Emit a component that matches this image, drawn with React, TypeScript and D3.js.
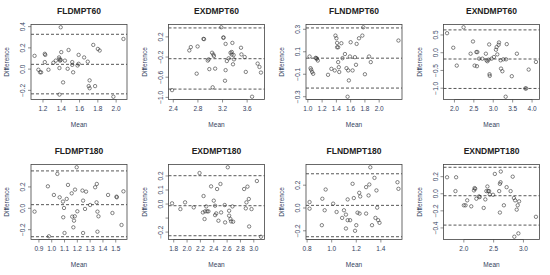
import React from "react";
import * as d3 from "d3";

// Bland-Altman panels: mean of two methods vs difference
const titles = [
  "FLDMPT60", "EXDMPT60", "FLNDMPT60", "EXNDMPT60",
  "FLDMPT180", "EXDMPT180", "FLNDMPT180", "EXNDMPT180"
];

const fldmpt60Mean = [1.108, 1.15, 1.168, 1.18, 1.22, 1.225, 1.22, 1.26, 1.314, 1.34, 1.376, 1.38, 1.394, 1.387, 1.4, 1.394, 1.38, 1.38, 1.42, 1.44, 1.47, 1.48, 1.52, 1.52, 1.53, 1.578, 1.59, 1.59, 1.65, 1.69, 1.71, 1.7, 1.71, 1.75, 1.77, 1.8, 1.82, 1.97, 2.08];
const fldmpt60Diff = [0.125, -0.006, -0.03, -0.03, 0.144, 0.134, 0.066, -0.006, 0.06, 0.08, 0.11, 0.094, 0.087, 0.08, 0.16, 0.394, 0.01, -0.24, -0.125, 0.08, 0.003, 0.18, 0.066, 0.04, -0.03, 0.034, 0.05, 0.134, 0.11, 0.07, -0.106, -0.16, -0.18, 0.228, -0.16, 0.19, 0.175, -0.26, 0.284];

const exdmpt60Mean = [2.38, 2.66, 2.685, 2.795, 2.78, 2.89, 2.9, 2.96, 2.975, 2.985, 3.03, 3.04, 3.05, 3.06, 3.08, 3.18, 3.215, 3.215, 3.25, 3.25, 3.24, 3.27, 3.3, 3.33, 3.35, 3.35, 3.36, 3.37, 3.38, 3.386, 3.5, 3.507, 3.56, 3.578, 3.68, 3.77, 3.8, 3.824];
const exdmpt60Diff = [-0.856, -0.069, -0.003, 0.01, -0.53, 0.16, 0.155, -0.27, -0.246, -0.44, -0.115, -0.8, -0.15, -0.18, -0.43, 0.39, 0.19, 0.18, 0.06, -0.46, -0.67, -0.28, -0.226, -0.115, -0.1, -0.15, 0.08, -0.344, -0.16, -0.246, -0.016, -0.148, -0.2, -0.495, -0.987, -0.33, -0.397, -0.508];

const flndmpt60Mean = [1.024, 1.038, 1.047, 1.06, 1.075, 1.11, 1.118, 1.127, 1.14, 1.283, 1.33, 1.377, 1.387, 1.4, 1.41, 1.41, 1.425, 1.425, 1.434, 1.44, 1.47, 1.486, 1.52, 1.542, 1.566, 1.575, 1.557, 1.6, 1.59, 1.627, 1.66, 1.675, 1.684, 1.717, 1.764, 1.778, 1.8, 1.858, 1.882, 2.27];
const flndmpt60Diff = [0.058, -0.046, -0.06, -0.08, -0.096, 0.046, 0.043, 0.037, 0.022, -0.105, -0.052, -0.066, 0.244, 0.22, 0.179, 0.14, 0.14, 0.008, -0.037, -0.08, 0.176, 0.043, 0.08, -0.046, -0.066, -0.155, -0.3, 0.185, 0.058, -0.066, 0.052, -0.016, 0.17, 0.22, 0.244, 0.318, -0.1, 0.058, 0.008, 0.2];

const exndmpt60Mean = [1.81, 1.97, 2.06, 2.235, 2.417, 2.478, 2.52, 2.565, 2.59, 2.58, 2.635, 2.72, 2.81, 2.826, 2.85, 2.878, 2.895, 2.904, 2.91, 2.957, 3.017, 3.07, 3.087, 3.104, 3.139, 3.148, 3.191, 3.2, 3.235, 3.26, 3.348, 3.32, 3.33, 3.478, 3.609, 3.826, 3.85, 3.913, 4.1];
const exndmpt60Diff = [0.55, 0.14, -0.363, 0.717, -0.028, 0.317, -0.363, 0.019, 0.019, -0.38, -0.168, -0.168, -0.028, -0.214, -0.24, -0.196, 0.233, -0.606, -0.652, -0.168, -0.121, 0.084, 0.158, -0.047, 0.224, 0.289, -0.214, -0.447, -0.522, -0.186, 0.242, -1.24, -0.186, -0.662, -0.028, -1.007, -1.007, -0.475, -0.26];

const fldmpt180Mean = [0.866, 0.97, 0.978, 1.017, 1.044, 1.062, 1.088, 1.09, 1.096, 1.1, 1.117, 1.127, 1.156, 1.16, 1.169, 1.174, 1.18, 1.182, 1.195, 1.2, 1.24, 1.245, 1.245, 1.26, 1.268, 1.3, 1.339, 1.352, 1.35, 1.357, 1.357, 1.365, 1.44, 1.474, 1.506, 1.508, 1.545, 1.56];
const fldmpt180Diff = [-0.031, 0.206, -0.262, 0.125, 0.322, 0.103, 0.063, -0.084, 0.003, -0.231, 0.088, 0.219, 0.14, -0.078, -0.178, -0.116, -0.075, 0.175, 0.384, -0.028, 0.166, 0.072, -0.231, -0.006, 0.156, 0.031, 0.197, 0.228, 0.056, -0.031, -0.219, -0.075, 0.125, -0.044, 0.109, 0.103, -0.156, 0.159];

const exdmpt180Mean = [1.775, 1.9, 1.97, 2.1, 2.187, 2.247, 2.237, 2.262, 2.27, 2.287, 2.3, 2.32, 2.36, 2.4, 2.42, 2.42, 2.437, 2.45, 2.47, 2.5, 2.51, 2.564, 2.57, 2.61, 2.63, 2.63, 2.65, 2.66, 2.68, 2.69, 2.855, 2.88, 2.89, 2.905, 2.925, 2.93, 2.966, 3.046, 3.107];
const exdmpt180Diff = [0.005, -0.036, 0.012, -0.024, 0.221, 0.057, -0.06, -0.107, -0.052, -0.017, -0.052, -0.052, 0.126, 0.024, -0.012, -0.079, -0.067, 0.107, -0.119, 0.143, -0.06, -0.007, -0.131, 0.262, -0.048, -0.083, -0.107, -0.124, -0.017, -0.126, 0.107, -0.031, 0.012, 0.124, 0.036, -0.16, -0.036, 0.164, -0.233];

const flndmpt180Mean = [0.82, 0.82, 0.92, 0.924, 0.943, 0.951, 1.012, 1.04, 1.085, 1.1, 1.116, 1.116, 1.13, 1.13, 1.15, 1.17, 1.18, 1.19, 1.2, 1.21, 1.224, 1.227, 1.232, 1.28, 1.28, 1.3, 1.306, 1.314, 1.328, 1.348, 1.356, 1.364, 1.37, 1.378, 1.389, 1.535, 1.543];
const flndmpt180Diff = [0.052, -0.006, -0.151, 0.081, -0.02, 0.162, 0.038, -0.035, -0.087, -0.02, -0.058, -0.18, 0.075, -0.107, -0.107, 0.212, 0.087, -0.2, -0.151, -0.041, 0.133, -0.049, 0.101, -0.049, 0.183, 0.11, 0.206, 0.357, -0.151, 0.264, -0.087, 0.154, 0.003, -0.107, -0.13, 0.226, 0.168];

const exndmpt180Mean = [1.718, 1.859, 1.87, 2.0, 2.028, 2.056, 2.124, 2.17, 2.18, 2.19, 2.21, 2.254, 2.266, 2.333, 2.36, 2.378, 2.395, 2.407, 2.424, 2.435, 2.49, 2.52, 2.593, 2.605, 2.616, 2.605, 2.62, 2.672, 2.718, 2.785, 2.82, 2.84, 2.86, 2.887, 2.904, 2.927, 2.847, 2.915, 3.21];
const exndmpt180Diff = [0.193, 0.031, 0.193, -0.135, -0.135, -0.077, -0.147, 0.039, 0.066, 0.058, -0.058, -0.031, -0.039, -0.166, -0.066, 0.031, 0.085, 0.031, 0.031, -0.008, -0.012, 0.232, 0.031, 0.116, 0.135, -0.22, 0.26, -0.135, 0.077, 0.031, 0.2, -0.05, -0.077, -0.186, -0.135, -0.089, -0.503, -0.464, -0.27];

// upper limit, bias, lower limit
const limits = [
  [0.328, 0.045, -0.233],
  [0.377, -0.233, -0.836],
  [0.312, 0.043, -0.223],
  [0.643, -0.177, -1.007],
  [0.35, 0.034, -0.266],
  [0.202, -0.012, -0.226],
  [0.3, 0.023, -0.252],
  [0.31, -0.023, -0.367]
];

const xTickValues = [
  [1.2, 1.4, 1.6, 1.8, 2.0],
  [2.4, 2.8, 3.2, 3.6],
  [1.0, 1.2, 1.4, 1.6, 1.8, 2.0],
  [2.0, 2.5, 3.0, 3.5, 4.0],
  [0.9, 1.0, 1.1, 1.2, 1.3, 1.4, 1.5],
  [1.8, 2.0, 2.2, 2.4, 2.6, 2.8, 3.0],
  [0.8, 1.0, 1.2, 1.4],
  [2.0, 2.5, 3.0]
];
const yTickValues = [
  [-0.2, 0.0, 0.2, 0.4],
  [-1.0, -0.6, -0.2, 0.2],
  [-0.3, -0.1, 0.1, 0.3],
  [-1.0, -0.5, 0.0, 0.5],
  [-0.2, 0.0, 0.2],
  [-0.2, -0.1, 0.0, 0.1, 0.2],
  [-0.2, 0.0, 0.2],
  [-0.4, -0.2, 0.0, 0.2]
];
// y tick labels that R dropped for overlap
const yHiddenLabels = [[], [], [], [], [], [-0.1], [], []];

const means = [fldmpt60Mean, exdmpt60Mean, flndmpt60Mean, exndmpt60Mean, fldmpt180Mean, exdmpt180Mean, flndmpt180Mean, exndmpt180Mean];
const diffs = [fldmpt60Diff, exdmpt60Diff, flndmpt60Diff, exndmpt60Diff, fldmpt180Diff, exdmpt180Diff, flndmpt180Diff, exndmpt180Diff];

const W = 550;
const H = 275;
const colW = 137.5;
const rowTop = [0, 140];
const boxLeft = 31;
const boxW = 96;
const boxTop = 24.5;
const boxH = 75;
const textCol = "#34425e";
const font = "'Liberation Sans', Arial, sans-serif";

// R-style axis range: data extent padded by 4%
const pad = ([lo, hi]) => {
  const d = (hi - lo) * 0.04;
  return [lo - d, hi + d];
};

const Panel = ({ i }) => {
  const col = i % 4;
  const row = Math.floor(i / 4);
  const x0 = col * colW + boxLeft;
  const y0 = rowTop[row] + boxTop;
  const mean = means[i];
  const diff = diffs[i];

  const x = d3.scaleLinear().domain(pad(d3.extent(mean))).range([x0, x0 + boxW]);
  const y = d3
    .scaleLinear()
    .domain(pad(d3.extent([...diff, ...limits[i]])))
    .range([y0 + boxH, y0]);

  const fmt = d3.format(".1f");
  const bottom = y0 + boxH;

  return (
    <g>
      <text x={x0 + boxW / 2} y={y0 - 10.5} textAnchor="middle" fontSize={8.5} fontWeight="bold" fill="#222">
        {titles[i]}
      </text>
      <rect x={x0} y={y0} width={boxW} height={boxH} fill="none" stroke="#444" strokeWidth={0.8} />
      {limits[i].map((v, k) => (
        <line key={k} x1={x0} x2={x0 + boxW} y1={y(v)} y2={y(v)} stroke="#444" strokeWidth={0.9} strokeDasharray="3,2" />
      ))}
      {mean.map((m, k) => (
        <circle key={k} cx={x(m)} cy={y(diff[k])} r={1.7} fill="none" stroke="#333" strokeWidth={0.6} />
      ))}
      {/* x axis */}
      <line x1={x(xTickValues[i][0])} x2={x(xTickValues[i][xTickValues[i].length - 1])} y1={bottom} y2={bottom} stroke="#444" strokeWidth={0.6} />
      {xTickValues[i].map(t => (
        <g key={t}>
          <line x1={x(t)} x2={x(t)} y1={bottom} y2={bottom + 3} stroke="#444" strokeWidth={0.6} />
          <text x={x(t)} y={bottom + 11} textAnchor="middle" fontSize={6.5} fill={textCol}>
            {fmt(t)}
          </text>
        </g>
      ))}
      {/* y axis */}
      {yTickValues[i].map(t => (
        <g key={t}>
          <line x1={x0 - 3} x2={x0} y1={y(t)} y2={y(t)} stroke="#444" strokeWidth={0.6} />
          {yHiddenLabels[i].includes(t) ? null : (
            <text
              transform={`translate(${x0 - 6},${y(t)}) rotate(-90)`}
              textAnchor="middle"
              fontSize={6.5}
              fill={textCol}
            >
              {fmt(t)}
            </text>
          )}
        </g>
      ))}
      <text x={x0 + boxW / 2} y={bottom + 27} textAnchor="middle" fontSize={6.5} fill={textCol}>
        Mean
      </text>
      <text
        transform={`translate(${x0 - 22},${y0 + boxH / 2}) rotate(-90)`}
        textAnchor="middle"
        fontSize={6.5}
        fill={textCol}
      >
        Difference
      </text>
    </g>
  );
};

export default function App() {
  return (
    <svg width={W} height={H} style={{ position: "absolute", left: 0, top: 0, background: "#fff", fontFamily: font }}>
      {titles.map((t, i) => (
        <Panel key={t} i={i} />
      ))}
    </svg>
  );
}
